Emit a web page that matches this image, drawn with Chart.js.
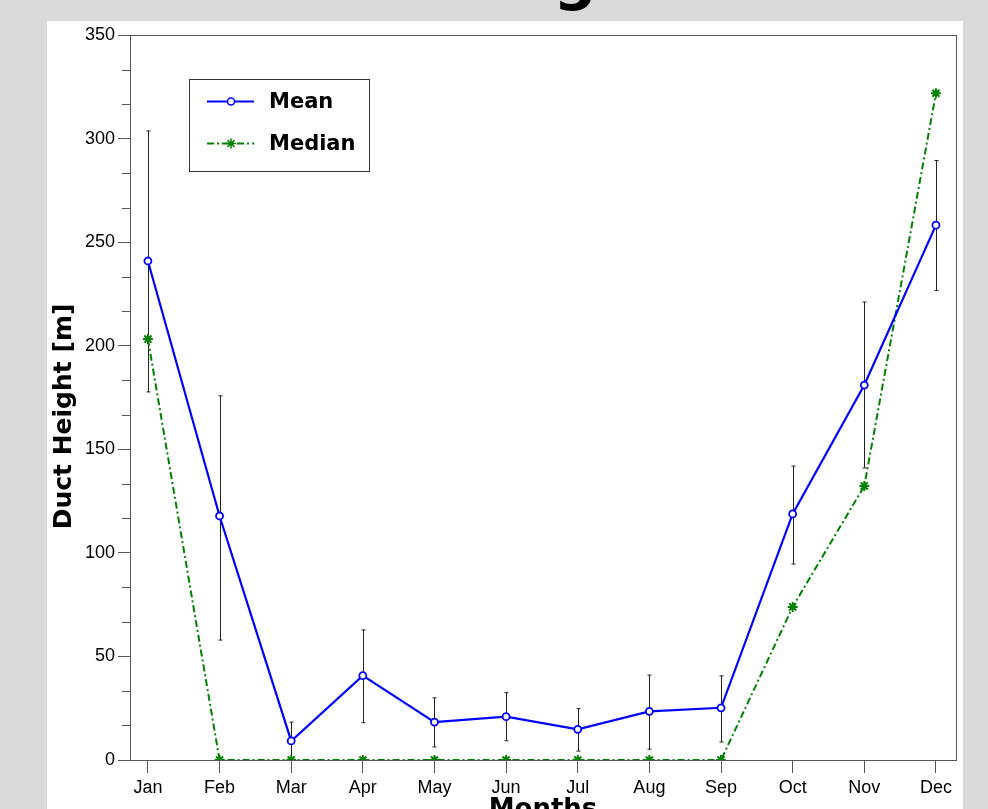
<!DOCTYPE html>
<html><head><meta charset="utf-8">
<script src="https://cdn.jsdelivr.net/npm/chart.js@4"></script>
<style>html,body{margin:0;padding:0;background:#d9d9d9;overflow:hidden;width:988px;height:809px}canvas{display:block}</style>
</head><body><canvas id="c" width="988" height="809"></canvas>
<script>
const months = ['Jan','Feb','Mar','Apr','May','Jun','Jul','Aug','Sep','Oct','Nov','Dec'];
const meanValues = [240.9,117.8,9.2,40.7,18.3,20.9,14.8,23.5,25.2,118.8,181,258.2];
const errorHigh = [303.7,175.8,18.3,62.8,30,32.5,24.8,41,40.6,141.9,221.1,289.4];
const errorLow = [177.7,57.9,0,18,6.3,9.3,4.3,5.2,8.7,94.6,141,226.6];
const medianValues = [203.2,0,0,0,0,0,0,0,0,73.9,132.3,321.9];
const yTickValues = [0,50,100,150,200,250,300,350];
const seriesNames = ['Mean','Median'];
const titleText = 'Duct Height';
const yTitle = 'Duct Height [m]';
const xTitle = 'Months';

const AX = '#555';
const BLUE = '#0000ff';
const GREEN = '#008000';
const MEDIAN_DASH = [7,3,2,3];
const BOLD = '"DejaVu Sans", sans-serif';

const decor = {
  id: 'decor',
  beforeDraw(chart) {
    const c = chart.ctx;
    c.save();
    c.fillStyle = '#d9d9d9';
    c.fillRect(0, 0, chart.width, chart.height);
    c.fillStyle = '#ffffff';
    c.fillRect(47, 21, 916, 788);
    // top title (mostly above view)
    c.font = 'bold 60px ' + BOLD;
    c.fillStyle = '#000';
    c.textBaseline = 'alphabetic';
    c.textAlign = 'left';
    const pre = c.measureText('Duct Hei').width;
    const gw = c.measureText('g').width;
    c.fillText(titleText, 575 - pre - gw / 2, -2);
    c.restore();
  },
  beforeDatasetsDraw(chart) {
    const c = chart.ctx, xs = chart.scales.x, ys = chart.scales.y;
    c.save();
    c.strokeStyle = '#222';
    c.lineWidth = 1;
    months.forEach((m, i) => {
      const x = Math.round(xs.getPixelForValue(i + 1)) + 0.5;
      const y1 = ys.getPixelForValue(errorHigh[i]);
      const y2 = ys.getPixelForValue(errorLow[i]);
      c.beginPath();
      c.moveTo(x, y1); c.lineTo(x, y2);
      c.moveTo(x - 2, y1); c.lineTo(x + 2, y1);
      c.moveTo(x - 2, y2); c.lineTo(x + 2, y2);
      c.stroke();
    });
    c.restore();
  },
  afterDraw(chart) {
    const c = chart.ctx, a = chart.chartArea, ys = chart.scales.y;
    c.save();
    c.strokeStyle = AX;
    c.lineWidth = 1;
    c.strokeRect(Math.round(a.left) + 0.5, Math.round(a.top) + 0.5, Math.round(a.right - a.left), Math.round(a.bottom - a.top));
    // minor ticks
    c.beginPath();
    for (let k = 1; k < 21; k++) {
      if (k % 3 === 0) continue;
      const y = Math.round(ys.getPixelForValue(k * 50 / 3)) + 0.5;
      c.moveTo(a.left - 8, y); c.lineTo(a.left, y);
    }
    c.stroke();
    // legend
    c.strokeStyle = '#333';
    c.strokeRect(189.5, 79.5, 180, 92);
    const rows = [{y: 101.5, color: BLUE, dash: [], w: 2, name: seriesNames[0]}, {y: 143.5, color: GREEN, dash: MEDIAN_DASH, w: 2, name: seriesNames[1]}];
    rows.forEach((r, i) => {
      c.save();
      c.strokeStyle = r.color; c.lineWidth = r.w; c.setLineDash(r.dash);
      c.beginPath(); c.moveTo(207, r.y); c.lineTo(254, r.y); c.stroke();
      c.restore();
      if (i === 0) {
        c.beginPath(); c.arc(231, r.y, 3.5, 0, Math.PI * 2);
        c.fillStyle = '#fff'; c.fill();
        c.strokeStyle = BLUE; c.lineWidth = 1.5; c.stroke();
      } else {
        c.strokeStyle = GREEN; c.lineWidth = 1.5;
        c.beginPath();
        for (let t = 0; t < 4; t++) {
          const ang = t * Math.PI / 4;
          c.moveTo(231 - 5 * Math.cos(ang), r.y - 5 * Math.sin(ang));
          c.lineTo(231 + 5 * Math.cos(ang), r.y + 5 * Math.sin(ang));
        }
        c.stroke();
      }
      c.fillStyle = '#000';
      c.font = 'bold 21px ' + BOLD;
      c.textBaseline = 'middle';
      c.textAlign = 'left';
      c.fillText(r.name, 269, r.y + 1);
    });
    // axis titles
    c.fillStyle = '#000';
    c.font = 'bold 25px ' + BOLD;
    c.textAlign = 'center';
    c.textBaseline = 'alphabetic';
    c.save();
    c.translate(70.5, 416.5);
    c.rotate(-Math.PI / 2);
    c.fillText(yTitle, 0, 0);
    c.restore();
    c.font = 'bold 26px ' + BOLD;
    c.fillText(xTitle, (a.left + a.right) / 2, 817);
    c.restore();
  }
};

new Chart(document.getElementById('c'), {
  type: 'line',
  data: {
    datasets: [
      {
        label: seriesNames[0],
        data: meanValues.map((v, i) => ({x: i + 1, y: v})),
        borderColor: BLUE, borderWidth: 2.2,
        pointRadius: 3.5, pointBackgroundColor: '#fff', pointBorderColor: BLUE, pointBorderWidth: 1.8,
        tension: 0, order: 1
      },
      {
        label: seriesNames[1],
        data: medianValues.map((v, i) => ({x: i + 1, y: v})),
        borderColor: GREEN, borderWidth: 2, borderDash: MEDIAN_DASH,
        pointStyle: 'star', pointRadius: 5, pointBorderColor: GREEN, pointBackgroundColor: GREEN, pointBorderWidth: 2,
        tension: 0, clip: 0, order: 2
      }
    ]
  },
  options: {
    responsive: false, animation: false, devicePixelRatio: 1,
    layout: {padding: {top: 35, right: 32, left: 0, bottom: 0}},
    plugins: {legend: {display: false}, tooltip: {enabled: false}, title: {display: false}},
    scales: {
      x: {
        type: 'linear', min: 0.75, max: 12.28,
        afterBuildTicks: s => { s.ticks = months.map((m, i) => ({value: i + 1})); },
        afterFit: s => { s.height = 49; },
        ticks: {callback: v => months[v - 1], color: '#000', font: {family: '"Liberation Sans", Arial, sans-serif', size: 18}, padding: 4, maxRotation: 0, autoSkip: false},
        grid: {drawOnChartArea: false, drawTicks: true, tickLength: 13, tickColor: AX, color: AX},
        border: {display: true, color: AX, width: 1}
      },
      y: {
        type: 'linear', min: 0, max: 350,
        afterBuildTicks: s => { s.ticks = yTickValues.map(v => ({value: v})); },
        afterFit: s => { s.width = 130; },
        ticks: {color: '#000', font: {family: '"Liberation Sans", Arial, sans-serif', size: 18}, padding: 3},
        grid: {drawOnChartArea: false, drawTicks: true, tickLength: 12, tickColor: AX, color: AX},
        border: {display: true, color: AX, width: 1}
      }
    }
  },
  plugins: [decor]
});
</script></body></html>
